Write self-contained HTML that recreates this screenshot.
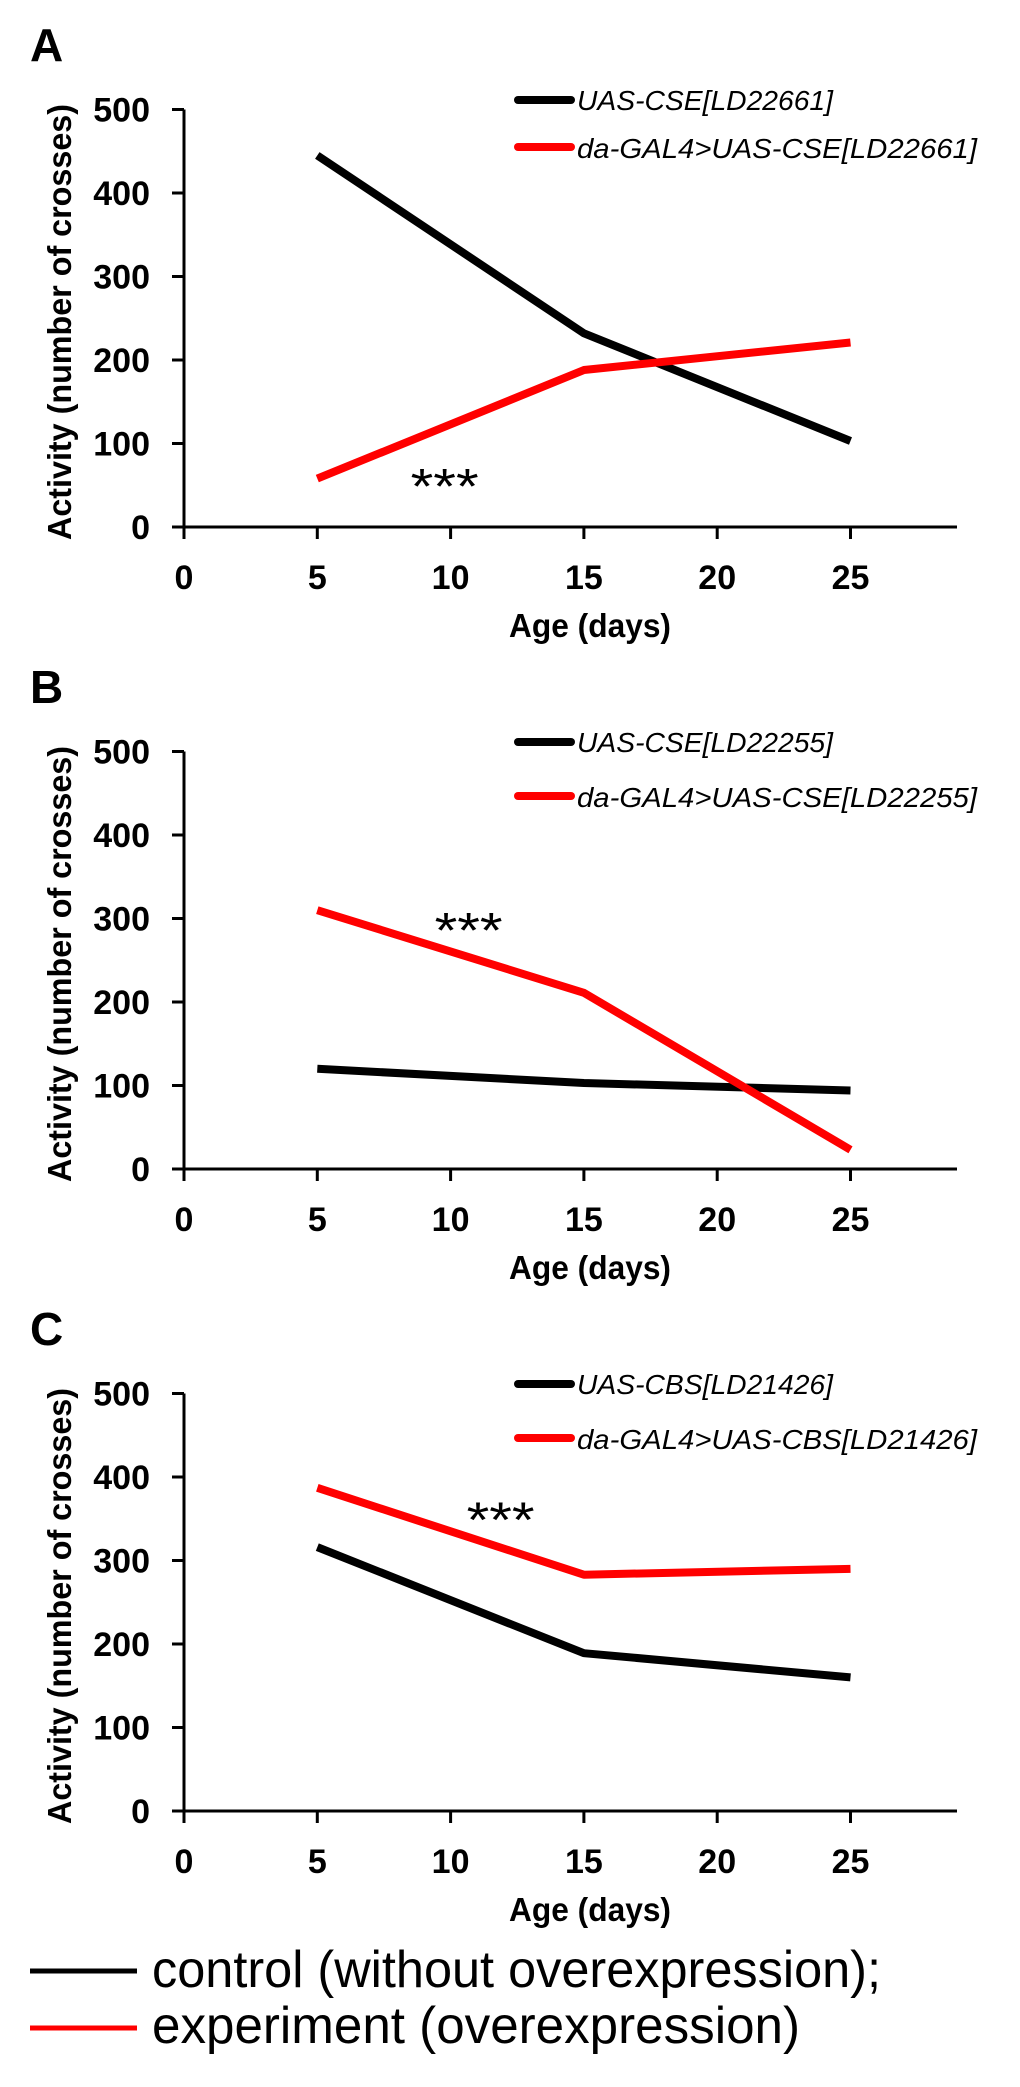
<!DOCTYPE html>
<html><head><meta charset="utf-8"><style>
html,body{margin:0;padding:0;background:#fff;}
svg{display:block;}
text{font-family:"Liberation Sans",sans-serif;}
</style></head>
<body>
<svg id="fig" width="1020" height="2087" viewBox="0 0 1020 2087" xmlns="http://www.w3.org/2000/svg">
  <g id="legend-bottom">
    <line x1="30" y1="1971" x2="137" y2="1971" stroke="#000" stroke-width="5"/>
    <text x="152" y="1987" font-size="52" textLength="729" lengthAdjust="spacingAndGlyphs">control (without overexpression);</text>
    <line x1="30" y1="2028" x2="137" y2="2028" stroke="#f00" stroke-width="5"/>
    <text x="152" y="2043" font-size="52" textLength="648" lengthAdjust="spacingAndGlyphs">experiment (overexpression)</text>
  </g>
</svg>
<script>
const panelLetters = ['A','B','C'];
const xTicks = [0,5,10,15,20,25];
const yTicks = [0,100,200,300,400,500];
const days = [5,15,25];
const controlA = [445,232,103];
const experimentA = [58,188,221];
const controlB = [120,103,94];
const experimentB = [310,211,23];
const controlC = [316,189,160];
const experimentC = [387,283,290];
const controlNames = ['UAS-CSE[LD22661]','UAS-CSE[LD22255]','UAS-CBS[LD21426]'];
const experimentNames = ['da-GAL4>UAS-CSE[LD22661]','da-GAL4>UAS-CSE[LD22255]','da-GAL4>UAS-CBS[LD21426]'];
const starValues = [64,301,364];
const starDays = [8.5,9.4,10.6];

const NS='http://www.w3.org/2000/svg';
const svg=document.getElementById('fig');
const x0=184, pxPerDay=133.3/5, pxPerUnit=0.835;
const baselines=[527,1169,1811];
function mk(tag,attrs,parent){const e=document.createElementNS(NS,tag);for(const k in attrs)e.setAttribute(k,attrs[k]);(parent||svg).appendChild(e);return e;}
const controls=[controlA,controlB,controlC], experiments=[experimentA,experimentB,experimentC];

panelLetters.forEach((L,i)=>{
  const y0=baselines[i];
  const xs=d=>x0+d*pxPerDay;
  const ys=v=>y0-v*pxPerUnit;
  const g=mk('g',{});
  
  
  const lt=mk('text',{x:30,y:y0-466,'font-size':46,'font-weight':'bold'},g);
  lt.textContent=L;
  
  
  const ya=mk('line',{x1:x0,y1:ys(500),x2:x0,y2:y0,stroke:'#000','stroke-width':3},g);
  
  
  const xa=mk('line',{x1:x0-12,y1:y0,x2:957,y2:y0,stroke:'#000','stroke-width':3},g);
  
  
  yTicks.forEach(v=>{
    const t=mk('line',{x1:x0-12,y1:ys(v),x2:x0,y2:ys(v),stroke:'#000','stroke-width':3},g);
    
    
    const tl=mk('text',{x:150,y:ys(v)+12,'font-size':34,'font-weight':'bold','text-anchor':'end'},g);
    tl.textContent=v;
    
    
  });
  xTicks.forEach(d=>{
    const t=mk('line',{x1:xs(d),y1:y0,x2:xs(d),y2:y0+12,stroke:'#000','stroke-width':3},g);
    
    
    const tl=mk('text',{x:xs(d),y:y0+62,'font-size':34,'font-weight':'bold','text-anchor':'middle'},g);
    tl.textContent=d;
    
    
  });
  const xt=mk('text',{x:590,y:y0+110,'font-size':33,'font-weight':'bold','text-anchor':'middle',textLength:162,lengthAdjust:'spacingAndGlyphs'},g);
  xt.textContent='Age (days)';
  
  
  const yt=mk('text',{x:0,y:0,'font-size':33,'font-weight':'bold','text-anchor':'middle',textLength:436,lengthAdjust:'spacingAndGlyphs',transform:`translate(71,${y0-205}) rotate(-90)`},g);
  yt.textContent='Activity (number of crosses)';
  
  
  const cl=mk('polyline',{points:days.map((d,k)=>xs(d)+','+ys(controls[i][k])).join(' '),fill:'none',stroke:'#000','stroke-width':8,'stroke-linejoin':'round'},g);
  
  
  const el=mk('polyline',{points:days.map((d,k)=>xs(d)+','+ys(experiments[i][k])).join(' '),fill:'none',stroke:'#f00','stroke-width':8,'stroke-linejoin':'round'},g);
  
  
  const st=mk('text',{x:xs(starDays[i]),y:ys(starValues[i])+30,'font-size':50,'text-anchor':'start',textLength:68,lengthAdjust:'spacingAndGlyphs'},g);
  st.textContent='***';
  
  
  const ly1=y0-427, ly2=y0-380+(i>0?7:0);
  const l1=mk('line',{x1:518,y1:ly1,x2:571,y2:ly1,stroke:'#000','stroke-width':8,'stroke-linecap':'round'},g);
  
  
  const t1=mk('text',{x:577,y:ly1+10,'font-size':28,'font-style':'italic',textLength:256,lengthAdjust:'spacingAndGlyphs'},g);
  t1.textContent=controlNames[i];
  
  
  const l2=mk('line',{x1:518,y1:ly2,x2:571,y2:ly2,stroke:'#f00','stroke-width':8,'stroke-linecap':'round'},g);
  
  
  const t2=mk('text',{x:577,y:ly2+11,'font-size':28,'font-style':'italic',textLength:400,lengthAdjust:'spacingAndGlyphs'},g);
  t2.textContent=experimentNames[i];
  
  
});
</script>
</body></html>
